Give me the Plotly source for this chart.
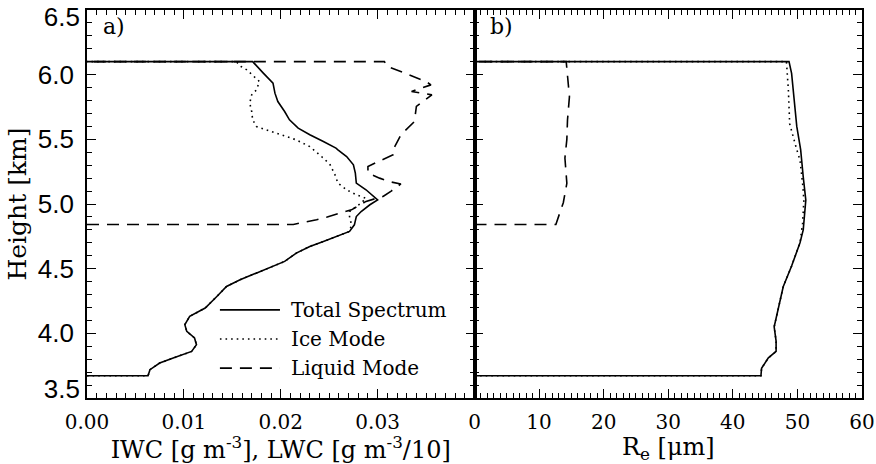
import plotly.graph_objects as go

# ---------------- data ----------------
# Panel a) water content profiles
tot_a_x = [0.0, 0.0063, 0.0065, 0.0075, 0.0089, 0.0108, 0.0113, 0.0111, 0.0103, 0.0101,
           0.0106, 0.0122, 0.0134, 0.0144, 0.0158, 0.0175, 0.0196, 0.0204, 0.0216, 0.0230,
           0.0244, 0.0257, 0.0271, 0.0276, 0.0278, 0.0283, 0.0292, 0.0300, 0.0288, 0.0278,
           0.0277, 0.0275, 0.0268, 0.0259, 0.0257, 0.0244, 0.0230, 0.0218, 0.0209, 0.0204,
           0.0197, 0.0194, 0.0192, 0.0182, 0.0171, 0.0]
tot_a_y = [3.672, 3.672, 3.719, 3.770, 3.809, 3.860, 3.912, 3.964, 4.015, 4.067,
           4.131, 4.196, 4.285, 4.362, 4.414, 4.466, 4.530, 4.556, 4.620, 4.672,
           4.710, 4.749, 4.788, 4.839, 4.903, 4.942, 4.994, 5.032, 5.110, 5.162,
           5.239, 5.303, 5.367, 5.419, 5.432, 5.483, 5.535, 5.587, 5.651, 5.715,
           5.792, 5.857, 5.934, 6.012, 6.101, 6.101]

ice_a_x = [0.0, 0.0063, 0.0065, 0.0075, 0.0089, 0.0108, 0.0113, 0.0111, 0.0103, 0.0101,
           0.0106, 0.0122, 0.0134, 0.0144, 0.0158, 0.0175, 0.0196, 0.0204, 0.0216, 0.0230,
           0.0244, 0.0257, 0.0271, 0.0273, 0.0271, 0.0271, 0.0278, 0.0283, 0.0288, 0.0278,
           0.0268, 0.0259, 0.0256, 0.0251, 0.0244, 0.0242, 0.0230, 0.0216, 0.0199, 0.0185,
           0.0175, 0.0171, 0.0170, 0.0168, 0.0170, 0.0175, 0.0178, 0.0165, 0.0159, 0.0154, 0.0]
ice_a_y = [3.672, 3.672, 3.719, 3.770, 3.809, 3.860, 3.912, 3.964, 4.015, 4.067,
           4.131, 4.196, 4.285, 4.362, 4.414, 4.466, 4.530, 4.556, 4.620, 4.672,
           4.710, 4.749, 4.788, 4.839, 4.903, 4.942, 4.981, 5.007, 5.045, 5.071,
           5.110, 5.162, 5.226, 5.303, 5.355, 5.367, 5.444, 5.496, 5.535, 5.573,
           5.599, 5.651, 5.715, 5.780, 5.844, 5.883, 5.947, 6.037, 6.063, 6.101, 6.101]

liq_a_x = [0.0, 0.0213, 0.0226, 0.0237, 0.0248, 0.0261, 0.0273, 0.0288, 0.0306, 0.0314,
           0.0324, 0.0314, 0.0302, 0.0290, 0.0290, 0.0300, 0.0316, 0.0316, 0.0324, 0.0338,
           0.0340, 0.0356, 0.0335, 0.0355, 0.0350, 0.0326, 0.0310, 0.0307, 0.0]
liq_a_y = [4.842, 4.842, 4.862, 4.878, 4.900, 4.930, 4.955, 5.020, 5.060, 5.100,
           5.155, 5.170, 5.200, 5.240, 5.290, 5.326, 5.380, 5.419, 5.535, 5.638,
           5.754, 5.844, 5.870, 5.921, 5.947, 6.018, 6.063, 6.101, 6.101]

# Panel b) effective radius profiles
tot_b_x = [0.0, 44.35, 44.45, 45.5, 46.7, 46.7, 46.4, 47.0, 47.8, 49.1, 50.4, 50.9,
           51.3, 50.9, 50.5, 49.9, 49.6, 49.35, 49.1, 48.7, 0.0]
tot_b_y = [3.672, 3.672, 3.73, 3.81, 3.86, 3.94, 4.05, 4.18, 4.36, 4.52, 4.70, 4.80,
           5.03, 5.21, 5.42, 5.60, 5.75, 5.93, 6.01, 6.101, 6.101]

ice_b_x = [0.0, 44.35, 44.45, 45.5, 46.7, 46.7, 46.4, 47.0, 47.8, 49.1, 50.4, 50.8,
           51.0, 50.8, 50.4, 49.9, 48.8, 48.6, 48.3, 0.0]
ice_b_y = [3.672, 3.672, 3.73, 3.81, 3.86, 3.94, 4.05, 4.18, 4.36, 4.52, 4.70, 4.85,
           5.03, 5.16, 5.34, 5.42, 5.62, 5.88, 6.101, 6.101]

liq_b_x = [0.0, 12.6, 13.2, 13.75, 14.3, 14.0, 14.3, 14.4, 14.7, 14.3, 14.2, 0.0]
liq_b_y = [4.842, 4.842, 4.93, 5.01, 5.16, 5.355, 5.50, 5.65, 5.83, 6.05, 6.101, 6.101]

legend_names = ["Total Spectrum", "Ice Mode", "Liquid Mode"]
x_ticks_a = [0, 0.01, 0.02, 0.03]
x_ticklabels_a = ["0.00", "0.01", "0.02", "0.03"]
x_ticks_b = [0, 10, 20, 30, 40, 50, 60]
y_ticks = [3.5, 4.0, 4.5, 5.0, 5.5, 6.0, 6.5]
y_ticklabels = ["3.5", "4.0", "4.5", "5.0", "5.5", "6.0", "6.5"]

# ---------------- styling ----------------
SERIF = "DejaVu Serif"
SANS = "Liberation Sans"
LW = 1.6
DASH = "12px,8px"
DOT = "1.6px,4px"
styles = [dict(color="black", width=LW, dash="solid"),
          dict(color="black", width=LW, dash=DOT),
          dict(color="black", width=LW, dash=DASH)]
YFONT = dict(family=SANS, size=26, color="black")

fig = go.Figure()

def add(xs, ys, st, xa, ya):
    fig.add_trace(go.Scatter(x=xs, y=ys, mode="lines", line=st, xaxis=xa, yaxis=ya,
                             showlegend=False, hoverinfo="skip"))

# draw liquid & ice first so total is on top
add(liq_a_x, liq_a_y, styles[2], "x", "y")
add(ice_a_x, ice_a_y, styles[1], "x", "y")
add(tot_a_x, tot_a_y, styles[0], "x", "y")
add(liq_b_x, liq_b_y, styles[2], "x2", "y2")
add(ice_b_x, ice_b_y, styles[1], "x2", "y2")
add(tot_b_x, tot_b_y, styles[0], "x2", "y2")
# empty traces so the two overlay axes carrying the end labels get drawn
for ya in ("y3", "y4"):
    fig.add_trace(go.Scatter(x=[], y=[], mode="lines", xaxis="x", yaxis=ya,
                             showlegend=False, hoverinfo="skip"))

axis_common = dict(showline=True, linecolor="black", linewidth=1.6, mirror="ticks",
                   ticks="inside", tickcolor="black", tickwidth=1.4, ticklen=9,
                   showgrid=False, zeroline=False, ticklabeloverflow="allow",
                   automargin=False)
minor_common = dict(ticks="inside", ticklen=5, tickcolor="black", tickwidth=1.2)

# the end labels (3.5 / 6.5) sit slightly inside the frame, as in the reference
inner_text = [t if t not in ("3.5", "6.5") else "" for t in y_ticklabels]
end_axis = dict(overlaying="y", anchor="x", side="left", range=[3.5, 6.5],
                showline=False, ticks="", showgrid=False, zeroline=False,
                automargin=False, ticklabeloverflow="allow", tickfont=YFONT,
                ticklabelstandoff=6)

fig.update_layout(
    width=876, height=464,
    margin=dict(l=87, r=14, t=10, b=66),
    paper_bgcolor="white", plot_bgcolor="white",
    showlegend=False,
    xaxis=dict(domain=[0, 0.5], range=[0, 0.04], tickvals=x_ticks_a, ticktext=x_ticklabels_a,
               minor=dict(dtick=0.001, **minor_common),
               tickfont=dict(family=SERIF, size=20, color="black"), ticklabelstandoff=5,
               title=dict(text="IWC [g m<sup>-3</sup>], LWC [g m<sup>-3</sup>/10]",
                          font=dict(family=SERIF, size=24, color="black"), standoff=0),
               **axis_common),
    xaxis2=dict(domain=[0.5, 1], range=[0, 60], tickvals=x_ticks_b,
                minor=dict(dtick=1, **minor_common),
                tickfont=dict(family=SERIF, size=20, color="black"), ticklabelstandoff=5,
                title=dict(text="R<sub>e</sub> [μm]",
                           font=dict(family=SERIF, size=24, color="black"), standoff=0),
                anchor="y2", **axis_common),
    yaxis=dict(range=[3.5, 6.5], tickvals=y_ticks, ticktext=inner_text,
               minor=dict(dtick=0.1, **minor_common),
               tickfont=YFONT, ticklabelstandoff=6,
               title=dict(text="Height [km]", font=dict(family=SERIF, size=25, color="black"),
                          standoff=4),
               **axis_common),
    yaxis3=dict(tickvals=[y_ticks[-1]], ticktext=[y_ticklabels[-1]], ticklabelshift=7,
                **end_axis),
    yaxis4=dict(tickvals=[y_ticks[0]], ticktext=[y_ticklabels[0]], ticklabelshift=-9,
                **end_axis),
    yaxis2=dict(range=[3.5, 6.5], tickvals=y_ticks,
                showticklabels=False, anchor="x2",
                minor=dict(dtick=0.1, **minor_common),
                **axis_common),
)

# panel labels
fig.add_annotation(text="a)", xref="x domain", yref="y domain", x=0.035, y=0.995,
                   xanchor="left", yanchor="top", showarrow=False,
                   font=dict(family=SERIF, size=22, color="black"))
fig.add_annotation(text="b)", xref="x2 domain", yref="y2 domain", x=0.035, y=0.995,
                   xanchor="left", yanchor="top", showarrow=False,
                   font=dict(family=SERIF, size=22, color="black"))

# legend (drawn inside panel a)
leg_x0, leg_x1, leg_txt = 0.343, 0.498, 0.522   # fractions of panel a domain
leg_rows = [0.227, 0.152, 0.077]
for name, st, yy in zip(legend_names, styles, leg_rows):
    fig.add_shape(type="line", xref="x domain", yref="y domain",
                  x0=leg_x0, x1=leg_x1, y0=yy, y1=yy, line=st)
    fig.add_annotation(text=name, xref="x domain", yref="y domain", x=leg_txt, y=yy,
                       xanchor="left", yanchor="middle", showarrow=False,
                       font=dict(family=SERIF, size=20, color="black"))

fig.write_html("out.html")
